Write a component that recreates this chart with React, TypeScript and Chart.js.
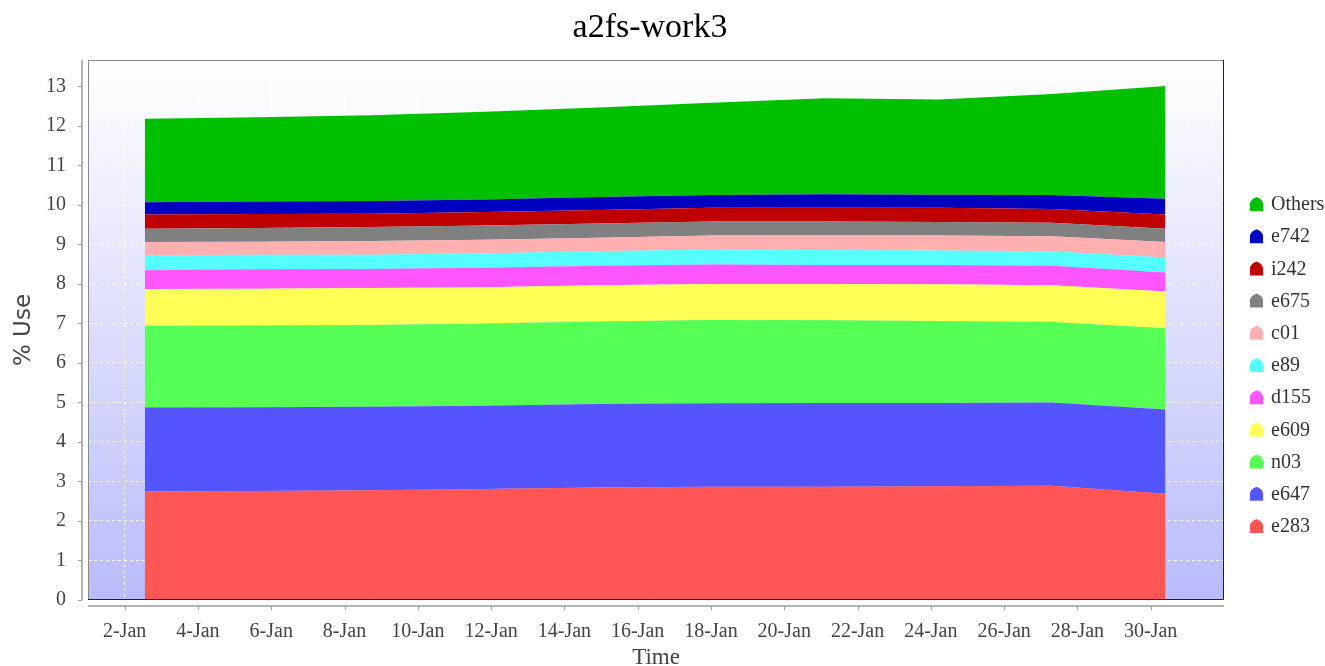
import React, { useEffect, useRef } from 'react';
import { Chart, registerables } from 'chart.js';

Chart.register(...registerables);

const TITLE = 'a2fs-work3';
const X_TITLE = 'Time';
const Y_TITLE = '% Use';

// sample times, in days of January
const sampleDays = [2.55, 5.64, 8.74, 11.83, 14.93, 18.02, 21.11, 24.21, 27.3, 30.4];

const seriesNames = ['e283', 'e647', 'n03', 'e609', 'd155', 'e89', 'c01', 'e675', 'i242', 'e742', 'Others'];
const seriesColors = ['#ff5555', '#5555ff', '#55ff55', '#ffff55', '#ff55ff', '#55ffff', '#ffafaf', '#808080', '#c00000', '#0000c0', '#00c000'];

const e283 = [2.75, 2.76, 2.78, 2.81, 2.85, 2.87, 2.87, 2.88, 2.89, 2.69];
const e647 = [2.12, 2.12, 2.11, 2.11, 2.11, 2.11, 2.12, 2.11, 2.11, 2.13];
const n03 = [2.07, 2.07, 2.07, 2.08, 2.09, 2.11, 2.09, 2.07, 2.04, 2.06];
const e609 = [0.93, 0.93, 0.94, 0.92, 0.92, 0.91, 0.92, 0.93, 0.93, 0.93];
const d155 = [0.48, 0.49, 0.48, 0.49, 0.49, 0.49, 0.48, 0.49, 0.49, 0.48];
const e89 = [0.38, 0.37, 0.36, 0.37, 0.37, 0.38, 0.38, 0.37, 0.37, 0.38];
const c01 = [0.33, 0.33, 0.35, 0.34, 0.34, 0.36, 0.37, 0.38, 0.38, 0.39];
const e675 = [0.34, 0.35, 0.35, 0.36, 0.36, 0.35, 0.35, 0.34, 0.34, 0.34];
const i242 = [0.36, 0.35, 0.34, 0.34, 0.34, 0.35, 0.35, 0.36, 0.35, 0.36];
const e742 = [0.31, 0.32, 0.32, 0.32, 0.33, 0.32, 0.34, 0.33, 0.35, 0.4];
const others = [2.11, 2.13, 2.17, 2.22, 2.27, 2.34, 2.43, 2.41, 2.56, 2.85];

const seriesValues = [e283, e647, n03, e609, d155, e89, c01, e675, i242, e742, others];

const xTickDays = [2, 4, 6, 8, 10, 12, 14, 16, 18, 20, 22, 24, 26, 28, 30];
const xTickLabels = ['2-Jan', '4-Jan', '6-Jan', '8-Jan', '10-Jan', '12-Jan', '14-Jan', '16-Jan', '18-Jan', '20-Jan', '22-Jan', '24-Jan', '26-Jan', '28-Jan', '30-Jan'];
const yTicks = [0, 1, 2, 3, 4, 5, 6, 7, 8, 9, 10, 11, 12, 13];

const X_MIN = 1;
const X_MAX = 32;
const Y_MIN = 0;
const Y_MAX = 13.67;

const SERIF = "'Liberation Serif', 'Times New Roman', serif";
const SANS = "'DejaVu Sans', sans-serif";

const plotBackground = {
  id: 'plotBackground',
  beforeDraw(chart: any) {
    const { ctx, chartArea } = chart;
    if (!chartArea) return;
    const g = ctx.createLinearGradient(0, chartArea.top, 0, chartArea.bottom);
    g.addColorStop(0, '#ffffff');
    g.addColorStop(1, '#b9bbfa');
    ctx.save();
    ctx.fillStyle = g;
    ctx.fillRect(chartArea.left, chartArea.top, chartArea.right - chartArea.left, chartArea.bottom - chartArea.top);
    ctx.restore();
  },
};

const plotFrame = {
  id: 'plotFrame',
  afterDraw(chart: any) {
    const { ctx, chartArea, scales } = chart;
    const { left, right, top, bottom } = chartArea;
    ctx.save();
    ctx.lineWidth = 1;
    // outline
    ctx.strokeStyle = '#8a8a8a';
    ctx.beginPath();
    ctx.moveTo(left + 0.5, bottom);
    ctx.lineTo(left + 0.5, top + 0.5);
    ctx.lineTo(right, top + 0.5);
    ctx.stroke();
    ctx.strokeStyle = '#222222';
    ctx.beginPath();
    ctx.moveTo(right - 0.5, top);
    ctx.lineTo(right - 0.5, bottom - 0.5);
    ctx.lineTo(left, bottom - 0.5);
    ctx.stroke();
    // offset x axis line + ticks
    ctx.strokeStyle = '#b4b4b4';
    ctx.lineWidth = 2;
    ctx.beginPath();
    ctx.moveTo(left, bottom + 6);
    ctx.lineTo(right, bottom + 6);
    ctx.stroke();
    ctx.lineWidth = 1;
    ctx.strokeStyle = '#9a9a9a';
    ctx.beginPath();
    xTickDays.forEach((d) => {
      const px = Math.round(scales.x.getPixelForValue(d)) + 0.5;
      ctx.moveTo(px, bottom + 6);
      ctx.lineTo(px, bottom + 10);
    });
    ctx.stroke();
    // offset y axis line + ticks
    ctx.strokeStyle = '#b4b4b4';
    ctx.lineWidth = 2;
    ctx.beginPath();
    ctx.moveTo(left - 6, top);
    ctx.lineTo(left - 6, bottom);
    ctx.stroke();
    ctx.lineWidth = 1;
    ctx.strokeStyle = '#9a9a9a';
    ctx.beginPath();
    yTicks.forEach((v) => {
      const py = Math.round(scales.y.getPixelForValue(v)) + 0.5;
      ctx.moveTo(left - 10, py);
      ctx.lineTo(left - 6, py);
    });
    ctx.stroke();
    ctx.restore();
  },
};

function drawHouse(ctx: CanvasRenderingContext2D, cx: number, cy: number, color: string) {
  const w = 13;
  const h = 14;
  const l = cx - w / 2;
  const r = cx + w / 2;
  const t = cy - h / 2;
  const b = cy + h / 2;
  ctx.fillStyle = color;
  ctx.beginPath();
  ctx.moveTo(l, b);
  ctx.lineTo(l, t + 6);
  ctx.quadraticCurveTo(l + 1, t + 2, cx, t);
  ctx.quadraticCurveTo(r - 1, t + 2, r, t + 6);
  ctx.lineTo(r, b);
  ctx.closePath();
  ctx.fill();
}

const sideLegend = {
  id: 'sideLegend',
  afterDraw(chart: any) {
    const { ctx, chartArea } = chart;
    const datasets = chart.data.datasets;
    const startY = chartArea.top + 144;
    const step = 32.2;
    const iconX = chartArea.right + 32.5;
    const textX = chartArea.right + 47;
    ctx.save();
    ctx.font = `20px ${SERIF}`;
    ctx.textBaseline = 'middle';
    ctx.textAlign = 'left';
    const order = datasets.map((_: any, i: number) => i).reverse();
    order.forEach((di: number, k: number) => {
      const ds = datasets[di];
      const y = startY + k * step;
      drawHouse(ctx, iconX, y, ds.backgroundColor);
      ctx.fillStyle = '#333333';
      ctx.fillText(ds.label, textX, y + 1);
    });
    ctx.restore();
  },
};

export default function App() {
  const canvasRef = useRef<HTMLCanvasElement | null>(null);

  useEffect(() => {
    document.body.style.margin = '0';
    document.body.style.overflow = 'hidden';
    const canvas = canvasRef.current;
    if (!canvas) return;

    const datasets = seriesNames.map((name, i) => ({
      label: name,
      data: sampleDays.map((d, j) => ({ x: d, y: seriesValues[i][j] })),
      backgroundColor: seriesColors[i],
      borderColor: 'rgba(0,0,0,0)',
      borderWidth: 0,
      pointRadius: 0,
      pointHoverRadius: 0,
      tension: 0,
      fill: i === 0 ? 'origin' : '-1',
    }));

    const chart = new Chart(canvas, {
      type: 'line',
      data: { datasets },
      plugins: [plotBackground, plotFrame, sideLegend],
      options: {
        animation: false,
        responsive: false,
        events: [],
        layout: { padding: { left: 0, right: 25, top: 0, bottom: 0 } },
        plugins: {
          legend: { display: false },
          tooltip: { enabled: false },
          title: {
            display: true,
            text: TITLE,
            color: '#000000',
            font: { family: SERIF, size: 34, weight: 'normal', lineHeight: 1.2 },
            padding: { top: 8, bottom: 11.2 },
          },
        },
        scales: {
          x: {
            type: 'linear',
            min: X_MIN,
            max: X_MAX,
            afterBuildTicks: (s: any) => {
              s.ticks = xTickDays.map((v) => ({ value: v }));
            },
            afterFit: (s: any) => {
              s.height = 66;
            },
            ticks: {
              autoSkip: false,
              maxRotation: 0,
              color: '#444444',
              padding: 20,
              font: { family: SERIF, size: 20 },
              callback: (v: any) => {
                const idx = xTickDays.indexOf(Number(v));
                return idx >= 0 ? xTickLabels[idx] : '';
              },
            },
            grid: { color: 'rgba(255,255,255,0.95)', drawTicks: false, lineWidth: 1 },
            border: { display: false, dash: [3, 3] },
            title: {
              display: true,
              text: X_TITLE,
              color: '#444444',
              font: { family: SERIF, size: 23, lineHeight: 0.72 },
              padding: 0,
            },
          },
          y: {
            type: 'linear',
            stacked: true,
            min: Y_MIN,
            max: Y_MAX,
            afterBuildTicks: (s: any) => {
              s.ticks = yTicks.map((v) => ({ value: v }));
            },
            afterFit: (s: any) => {
              s.width = 88;
            },
            ticks: {
              color: '#444444',
              padding: 22,
              font: { family: SERIF, size: 20 },
              callback: (v: any) => String(v),
            },
            grid: { color: 'rgba(255,255,255,0.95)', drawTicks: false, lineWidth: 1 },
            border: { display: false, dash: [3, 3] },
            title: {
              display: true,
              text: Y_TITLE,
              color: '#444444',
              font: { family: SANS, size: 23, lineHeight: 1 },
              padding: { top: 13, bottom: 0 },
            },
          },
          yRight: {
            type: 'linear',
            position: 'right',
            display: true,
            min: Y_MIN,
            max: Y_MAX,
            ticks: { display: false },
            grid: { display: false, drawOnChartArea: false },
            border: { display: false },
            afterFit: (s: any) => {
              s.width = 76;
            },
          },
        },
      },
    } as any);

    return () => {
      chart.destroy();
    };
  }, []);

  return (
    <div style={{ width: 1325, height: 666 }}>
      <canvas ref={canvasRef} width={1325} height={666} style={{ display: 'block' }} />
    </div>
  );
}
